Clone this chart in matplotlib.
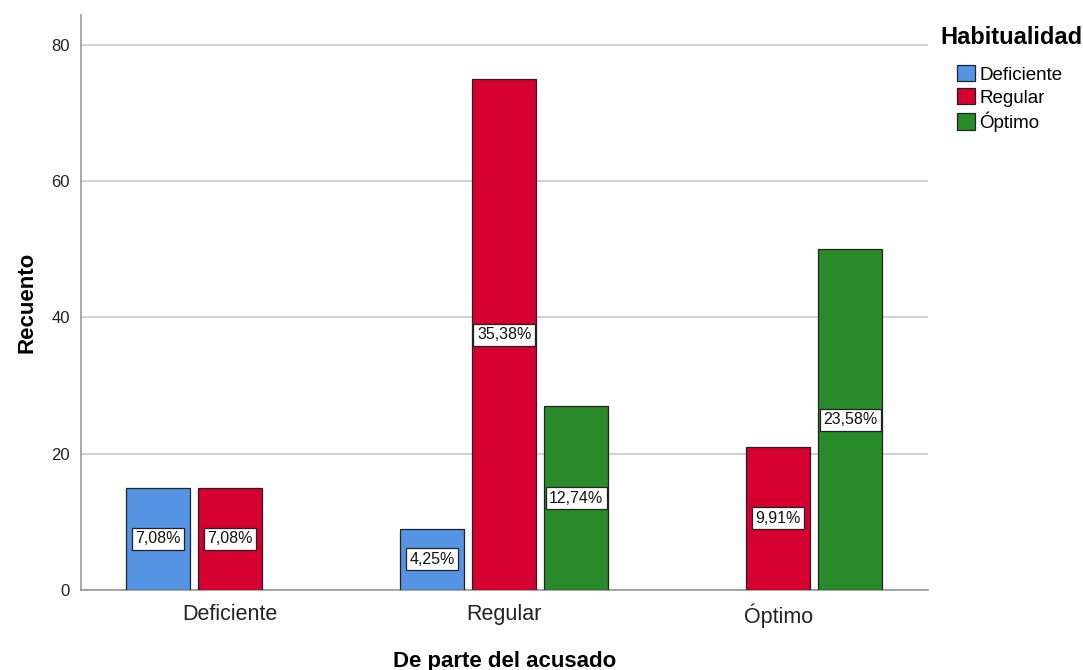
import numpy as np
import matplotlib.pyplot as plt
from matplotlib.patches import Patch

plt.rcParams['font.family'] = ['Liberation Sans', 'DejaVu Sans']

categories = ['Deficiente', 'Regular', 'Óptimo']
series = ['Deficiente', 'Regular', 'Óptimo']
colors = ['#5593E3', '#D5002F', '#298A29']
# counts per x-category for each series (None = no bar)
counts = {
    'Deficiente': [15, 9, None],
    'Regular': [15, 75, 21],
    'Óptimo': [None, 27, 50],
}
total = 212

fig = plt.figure(figsize=(10.83, 6.70), dpi=100)
ax = fig.add_axes([0.0748, 0.1194, 0.7822, 0.8582])

ind = np.arange(len(categories))
offset = 0.263
width = 0.234
for k, s in enumerate(series):
    for i, v in enumerate(counts[s]):
        if v is None:
            continue
        x = ind[i] + (k - 1) * offset
        ax.bar(x, v, width, color=colors[k], edgecolor='#222222', linewidth=0.9, zorder=3)
        pct = ('%.2f%%' % (100.0 * v / total)).replace('.', ',')
        ax.text(x, v / 2.0, pct, ha='center', va='center', fontsize=11.5, color='#111111', zorder=4,
                bbox=dict(boxstyle='square,pad=0.22', facecolor='white', edgecolor='#222222', linewidth=0.9))

ax.set_xlim(-0.544, 2.547)
ax.set_ylim(0, 84.4)
ax.set_yticks([0, 20, 40, 60, 80])
ax.set_xticks(ind)
ax.set_xticklabels(categories, fontsize=15.5, color='#222222')
ax.tick_params(axis='y', length=0, labelsize=12, pad=8, labelcolor='#222222')
ax.tick_params(axis='x', length=0, pad=10)
ax.grid(axis='y', color='#C8C8C8', linewidth=1.2, zorder=0)
for sp in ['top', 'right']:
    ax.spines[sp].set_visible(False)
for sp in ['left', 'bottom']:
    ax.spines[sp].set_color('#999999')
    ax.spines[sp].set_linewidth(1.2)

ax.set_ylabel('Recuento', fontsize=16, fontweight='bold', labelpad=10)
ax.set_xlabel('De parte del acusado', fontsize=16, fontweight='bold', labelpad=16)

fig.text(940 / 1083, 1 - 38 / 670, 'Habitualidad', fontsize=17, fontweight='bold',
         ha='left', va='center')
handles = [Patch(facecolor=c, edgecolor='#222222', linewidth=0.9) for c in colors]
leg = fig.legend(handles, series, loc='upper left', bbox_to_anchor=(957 / 1083, 1 - 65 / 670),
                 frameon=False, fontsize=13.5,
                 handlelength=0.95, handleheight=0.95, handletextpad=0.25,
                 labelspacing=0.25, borderaxespad=0, borderpad=0)

plt.savefig('out.png', dpi=100)
